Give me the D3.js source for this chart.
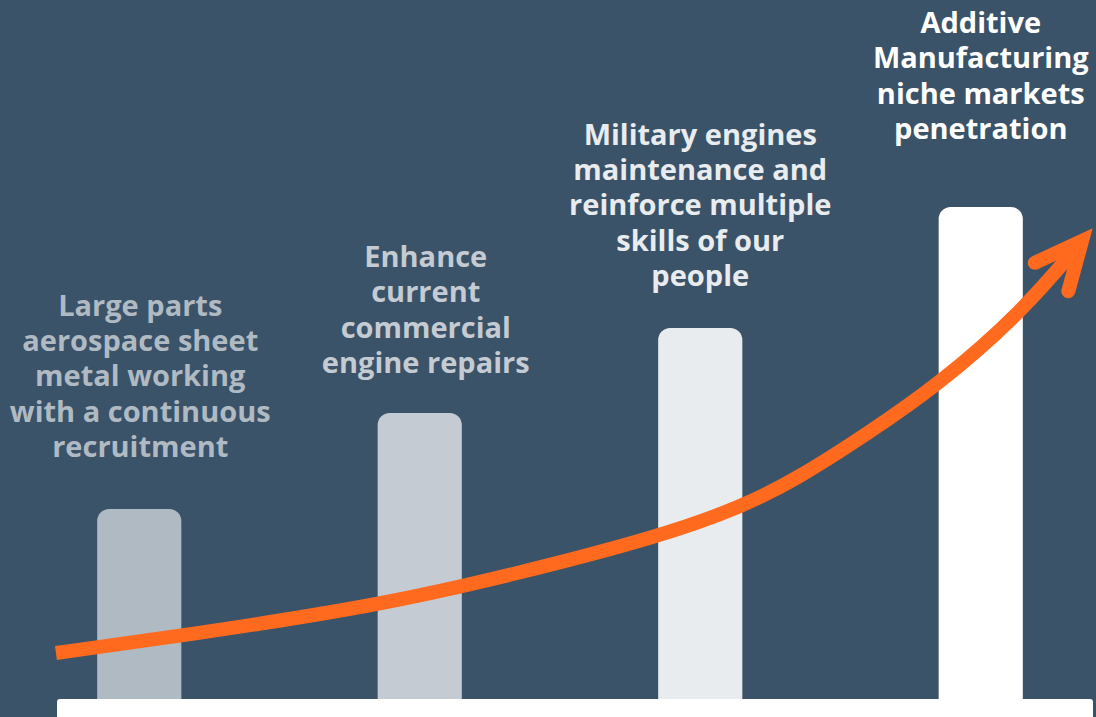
<!DOCTYPE html>
<html>
<head>
<meta charset="utf-8">
<script src="https://cdn.jsdelivr.net/npm/d3@7"></script>
<style>
  html, body { margin: 0; padding: 0; background: #3b5369; }
  svg { display: block; }
</style>
</head>
<body>
<div id="chart"></div>
<script>
// steps of the roadmap
var stepLabels = [
  ["Large parts", "aerospace sheet", "metal working", "with a continuous", "recruitment"],
  ["Enhance", "current", "commercial", "engine repairs"],
  ["Military engines", "maintenance and", "reinforce multiple", "skills of our", "people"],
  ["Additive", "Manufacturing", "niche markets", "penetration"]
];
var stepValues = [38, 57.2, 74.2, 98.4];
var stepColors = ["#b0bac3", "#c4cbd2", "#e8ecef", "#ffffff"];

// growth arrow (x in step units, y in value units)
var trendX = [0.203, 0.645, 1.348, 1.857, 2.349, 2.649, 2.856, 3.094, 3.348, 3.647, 3.861];
var trendY = [9.2, 12.6, 18.6, 25.2, 32.4, 38.4, 44.4, 53.0, 62.8, 77.4, 91.6];

var width = 1096, height = 717;
var labelGap = [52, 40, 42, 68];
var labelShift = [1, 6, 0, 0];
var lineStep = 35.3;

var svg = d3.select("#chart").append("svg")
    .attr("width", width)
    .attr("height", height);

svg.append("rect")
    .attr("width", width)
    .attr("height", height)
    .style("fill", "#3b5369");

var x = d3.scaleLinear().domain([0, 4]).range([-1, 1121]);
var y = d3.scaleLinear().domain([0, 100]).range([699, 199]);
var barW = x(0.3) - x(0);

// bars
svg.selectAll("rect.bar").data(stepValues)
  .enter()
  .append("rect")
  .attr("class", "bar")
  .attr("x", function(d, i) { return x(i + 0.5) - barW / 2; })
  .attr("y", function(d) { return y(d); })
  .attr("width", barW)
  .attr("height", function(d) { return y(0) - y(d) + 20; })
  .attr("rx", 12)
  .style("fill", function(d, i) { return stepColors[i]; });

// base line
svg.append("rect")
    .attr("x", 57)
    .attr("y", y(0))
    .attr("width", 1093 - 57)
    .attr("height", 40)
    .attr("rx", 3)
    .style("fill", "#ffffff");

// arrow shaft
var pts = trendX.map(function(d, i) { return [x(d), y(trendY[i])]; });
var line = d3.line().curve(d3.curveBasis);
svg.append("path")
    .attr("d", line(pts))
    .style("fill", "none")
    .style("stroke", "#ff6a1e")
    .style("stroke-width", 14);

// arrow head from the direction of the last segment
var p1 = pts[pts.length - 2], p2 = pts[pts.length - 1];
var ang = Math.atan2(p2[1] - p1[1], p2[0] - p1[0]);
var headLen = 52, headAng = 25 * Math.PI / 180;
var head = [
  [p2[0] - headLen * Math.cos(ang - headAng), p2[1] - headLen * Math.sin(ang - headAng)],
  p2,
  [p2[0] - headLen * Math.cos(ang + headAng), p2[1] - headLen * Math.sin(ang + headAng)]
];
svg.append("path")
    .attr("d", d3.line()(head))
    .style("fill", "none")
    .style("stroke", "#ff6a1e")
    .style("stroke-width", 14)
    .style("stroke-linecap", "round")
    .style("stroke-linejoin", "miter")
    .style("stroke-miterlimit", 10);

// labels
var labels = svg.selectAll("text.step").data(stepLabels)
  .enter()
  .append("text")
  .attr("class", "step")
  .attr("text-anchor", "middle")
  .style("font-family", "'Open Sans', sans-serif")
  .style("font-weight", "bold")
  .style("font-size", "29px")
  .style("fill", function(d, i) { return stepColors[i]; });

labels.each(function(d, i) {
  var top = y(stepValues[i]) - labelGap[i] - (d.length - 1) * lineStep;
  d3.select(this).selectAll("tspan").data(d)
    .enter()
    .append("tspan")
    .attr("x", x(i + 0.5) + labelShift[i])
    .attr("y", function(t, j) { return top + j * lineStep; })
    .text(function(t) { return t; });
});
</script>
</body>
</html>
